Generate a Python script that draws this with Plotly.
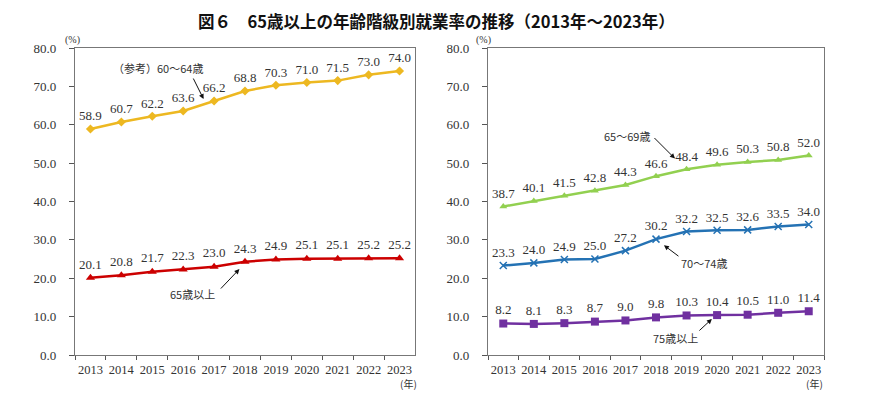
import plotly.graph_objects as go

years = ["2013", "2014", "2015", "2016", "2017", "2018", "2019", "2020", "2021", "2022", "2023"]
age60_64 = [58.9, 60.7, 62.2, 63.6, 66.2, 68.8, 70.3, 71.0, 71.5, 73.0, 74.0]
age65_over = [20.1, 20.8, 21.7, 22.3, 23.0, 24.3, 24.9, 25.1, 25.1, 25.2, 25.2]
age65_69 = [38.7, 40.1, 41.5, 42.8, 44.3, 46.6, 48.4, 49.6, 50.3, 50.8, 52.0]
age70_74 = [23.3, 24.0, 24.9, 25.0, 27.2, 30.2, 32.2, 32.5, 32.6, 33.5, 34.0]
age75_over = [8.2, 8.1, 8.3, 8.7, 9.0, 9.8, 10.3, 10.4, 10.5, 11.0, 11.4]
y_ticks = [0, 10, 20, 30, 40, 50, 60, 70, 80]

W, H = 870, 399
OFF = 8  # page body margin
SERIF = "Liberation Serif, DejaVu Serif, serif"
CJK = "Noto Sans CJK JP"
TXT = "#333333"


def px(x):
    return (x - OFF) / W


def py(y):
    return (H - (y - OFF)) / H


fig = go.Figure()


def add_series(y, color, symbol, size, axis, mline=None):
    marker = dict(symbol=symbol, size=size, color=color)
    if mline:
        marker["line"] = dict(color=color, width=mline)
    fig.add_trace(go.Scatter(
        x=years, y=y, mode="lines+markers+text",
        line=dict(color=color, width=2.5),
        marker=marker,
        text=[f"{v:.1f}" for v in y],
        textposition="top center",
        textfont=dict(family=SERIF, size=13, color=TXT),
        cliponaxis=False,
        xaxis="x" + axis, yaxis="y" + axis,
        showlegend=False, hoverinfo="skip",
    ))


add_series(age60_64, "#EDB821", "diamond", 7, "")
add_series(age65_over, "#CC0000", "triangle-up", 8, "")
add_series(age65_69, "#92D050", "triangle-up", 7, "2")
add_series(age70_74, "#2472B4", "x-thin-open", 7, "2", mline=1.5)
add_series(age75_over, "#7030A0", "square", 8, "2")

ydom = [py(355), py(48)]
xaxis_common = dict(
    type="category", tickson="boundaries", ticks="outside", ticklen=4,
    tickcolor="#555555", showline=True, linecolor="#777777", linewidth=1.2,
    mirror=True, showgrid=False, zeroline=False, tickangle=0, automargin=False,
    ticklabelstandoff=3,
    tickfont=dict(family=SERIF, size=12.5, color=TXT),
    range=[-0.5, 10.5],
)
yaxis_common = dict(
    range=[0, 80], tickvals=y_ticks, tickformat=".1f", ticks="outside", ticklen=5,
    tickcolor="#555555", showline=True, linecolor="#777777", linewidth=1.2,
    mirror=True, showgrid=False, zeroline=False, automargin=False,
    ticklabelstandoff=10,
    tickfont=dict(family=SERIF, size=13, color=TXT), domain=ydom,
)

fig.update_layout(
    width=W, height=H,
    margin=dict(l=0, r=0, t=0, b=0, pad=0, autoexpand=False),
    paper_bgcolor="white", plot_bgcolor="white",
    xaxis=dict(domain=[px(75), px(415)], anchor="y", **xaxis_common),
    yaxis=dict(anchor="x", **yaxis_common),
    xaxis2=dict(domain=[px(488), px(824)], anchor="y2", **xaxis_common),
    yaxis2=dict(anchor="x2", **yaxis_common),
)

ann = []


def ptext(text, x, y, size, family, color=TXT):
    ann.append(dict(text=text, x=px(x), y=py(y), xref="paper", yref="paper",
                    xanchor="center", yanchor="middle", showarrow=False,
                    font=dict(family=family, size=size, color=color)))


ptext("<b>図６　65歳以上の年齢階級別就業率の推移（2013年～2023年）</b>", 436, 21, 16.5, CJK, "#111111")
ptext("(%)", 72, 40, 10, SERIF)
ptext("(%)", 483, 40, 10, SERIF)
ptext("(年)", 408, 383, 10, CJK)
ptext("(年)", 814, 383, 10, CJK)


def label(text, x, y, axis):
    ann.append(dict(text=text, x=x, y=y, xref="x" + axis, yref="y" + axis,
                    xanchor="center", yanchor="middle",
                    showarrow=False, font=dict(family=CJK, size=11, color=TXT)))


def arrow(x, y, ax, ay, axis):
    ann.append(dict(text="", x=x, y=y, xref="x" + axis, yref="y" + axis,
                    ax=ax, ay=ay, showarrow=True, arrowhead=2, arrowsize=1,
                    arrowwidth=1, arrowcolor="#111111", standoff=0))


label("（参考）60～64歳", 2.17, 74.7, "")
arrow(3.66, 66.7, -11, -22, "")
label("65歳以上", 3.30, 15.9, "")
arrow(4.82, 22.4, -20, 21, "")
label("65～69歳", 4.05, 57.0, "2")
arrow(5.62, 51.2, -22, -22, "2")
label("70～74歳", 6.57, 24.0, "2")
arrow(5.26, 28.6, 16, 12, "2")
label("75歳以上", 5.65, 4.4, "2")
arrow(6.83, 9.4, -14, 13, "2")

fig.update_layout(annotations=ann)
fig.write_html("out.html")
